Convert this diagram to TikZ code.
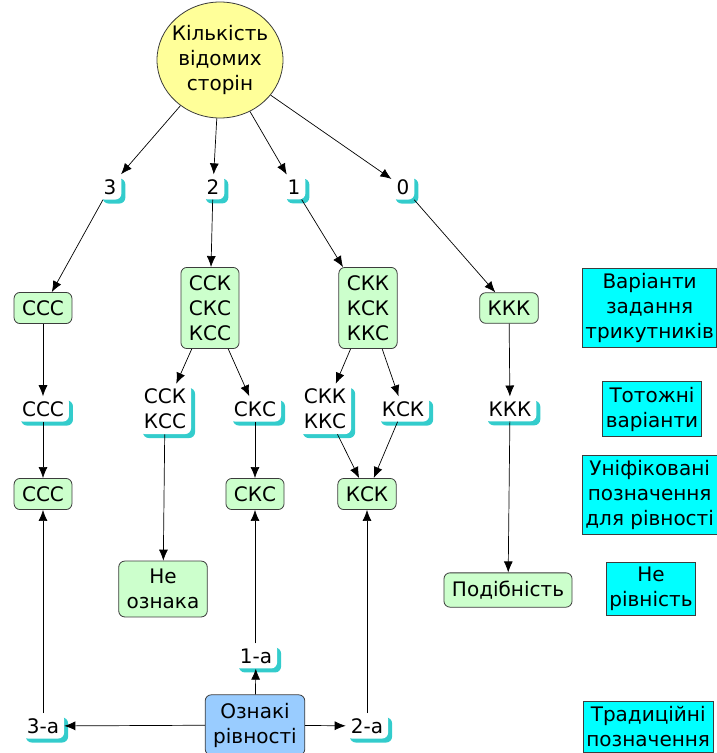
\documentclass[tikz,border=0pt]{standalone}
\usepackage{fontspec}
\setmainfont{DejaVu Sans}
\usetikzlibrary{arrows.meta,shapes.geometric,shadows}
\definecolor{grn}{RGB}{204,255,204}
\definecolor{ylw}{RGB}{255,255,153}
\definecolor{cyn}{RGB}{0,255,255}
\definecolor{blu}{RGB}{153,204,255}
\definecolor{shd}{RGB}{51,204,204}
\definecolor{brd}{RGB}{60,60,60}
\begin{document}
\begin{tikzpicture}[x=1pt,y=-1pt,
  font=\fontsize{20}{25}\selectfont,
  every node/.append style={align=center},
  gbox/.style={draw=brd, fill=grn, rounded corners=6pt, inner xsep=8pt, inner ysep=8pt, line width=0.8pt},
  lbl/.style={fill=white, rounded corners=6pt, inner xsep=5pt, inner ysep=5pt,
     general shadow={fill=shd, shadow xshift=4pt, shadow yshift=-4pt}},
  cbox/.style={draw=brd, fill=cyn, inner xsep=3pt, inner ysep=5pt, line width=0.8pt},
  arr/.style={-{Latex[length=11pt,width=9pt]}, line width=0.7pt},
  ln/.style={line width=0.7pt}
]
\useasboundingbox (0,0) rectangle (717,753);
\clip (0,0) rectangle (717,753);

% top ellipse
\node[ellipse, draw=brd, fill=ylw, line width=0.8pt, minimum width=126pt, minimum height=116pt, inner xsep=-5pt, inner ysep=0pt] (e) at (220,60) {Кількість\\відомих\\сторін};

% count labels
\node[lbl] (n3) at (110,187) {3};
\node[lbl] (n2) at (213,187) {2};
\node[lbl] (n1) at (294,187) {1};
\node[lbl] (n0) at (403,187) {0};

% variant boxes
\node[gbox] (b3) at (43,308) {ССС};
\node[gbox] (b2) at (210,308) {ССК\\СКС\\КСС};
\node[gbox] (b1) at (368,308) {СКК\\КСК\\ККС};
\node[gbox] (b0) at (509,308) {ККК};

% identical labels
\node[lbl] (t3) at (43,409) {ССС};
\node[lbl] (t2a) at (165,409) {ССК\\КСС};
\node[lbl] (t2b) at (255,409) {СКС};
\node[lbl] (t1a) at (325,409) {СКК\\ККС};
\node[lbl] (t1b) at (403,409) {КСК};
\node[lbl] (t0) at (510,409) {ККК};

% unified boxes
\node[gbox] (u3) at (43,494) {ССС};
\node[gbox] (u2) at (255,494) {СКС};
\node[gbox] (u1) at (367,494) {КСК};

% not-sign boxes
\node[gbox] (ne) at (163,589) {Не\\ознака};
\node[gbox] (pod) at (508,590) {Подібність};

% bottom
\node[lbl] (a1) at (256,656) {1-а};
\node[draw=brd, fill=blu, rounded corners=6pt, line width=0.8pt, inner xsep=8pt, inner ysep=8pt] (ozn) at (255,725) {Ознакі\\рівності};
\node[lbl] (a3) at (43,726) {3-а};
\node[lbl] (a2) at (367,726) {2-а};

% right column
\node[cbox, anchor=west] (c1) at (582,308) {Варіанти\\задання\\трикутників};
\node[cbox] (c2) at (652,409) {Тотожні\\варіанти};
\node[cbox, anchor=west] (c3) at (582,495) {Уніфіковані\\позначення\\для рівності};
\node[cbox] (c4) at (651,589) {Не\\рівність};
\node[cbox, anchor=west] (c5) at (583,727) {Традиційні\\позначення};

% connectors
\draw[arr] (e) -- (n3);
\draw[arr] (e) -- (n2);
\draw[arr] (e) -- (n1);
\draw[arr] (e) -- (n0);
\draw[arr] (n3) -- (b3);
\draw[arr] (n2) -- (b2);
\draw[arr] (n1) -- (b1);
\draw[arr] (n0) -- (b0);
\draw[arr] (b3) -- (t3);
\draw[arr] (b2) -- (t2a);
\draw[arr] (b2) -- (t2b);
\draw[arr] (b1) -- (t1a);
\draw[arr] (b1) -- (t1b);
\draw[arr] (b0) -- (t0);
\draw[arr] (t3) -- (u3);
\draw[arr] (t2a) -- (ne);
\draw[arr] (t2b) -- (u2);
\draw[arr] (t1a) -- (u1);
\draw[arr] (t1b) -- (u1);
\draw[arr] (t0) -- (pod);
\draw[arr] (a3.north -| u3.south) -- (u3.south);
\draw[arr] (a1.north -| u2.south) -- (u2.south);
\draw[arr] (a2.north -| u1.south) -- (u1.south);
\draw[arr] (ozn) -- (a1);
\draw[arr] (ozn) -- (a3);
\draw[arr] (ozn) -- (a2);
\end{tikzpicture}
\end{document}
